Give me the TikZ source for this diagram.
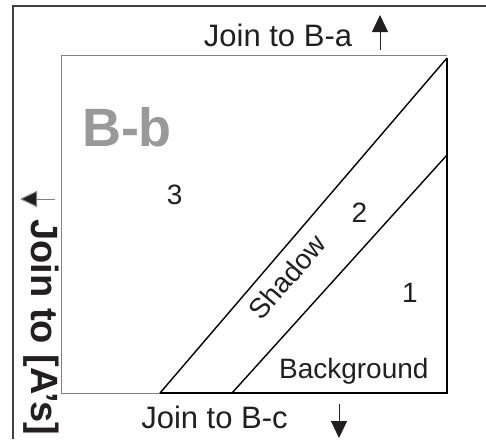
\documentclass[tikz,border=0pt]{standalone}
\usepackage{fontspec}
\setmainfont{Liberation Sans}
\usetikzlibrary{arrows.meta}
\definecolor{ink}{HTML}{231F20}
\definecolor{bbgrey}{HTML}{999999}
\begin{document}
\begin{tikzpicture}[x=1pt,y=-1pt,
  lbl/.style={inner sep=0pt, anchor=base, text=ink},
  mid/.style={lbl, font=\fontsize{28}{33}\selectfont},
  big/.style={lbl, font=\fontsize{31}{37}\selectfont},
  thinedge/.style={line width=0.8pt, draw=black!50},
  frameline/.style={line width=1.2pt, draw=black!75},
  heavy/.style={line width=2.4pt, draw=black, line join=miter},
  diag/.style={line width=1.4pt, draw=black},
  arr/.style={line width=1pt, -{Triangle[length=17pt,width=16pt]}}]
\useasboundingbox (0,0) rectangle (486,439);
% outer frame
\coordinate (F1) at (13,439);
\coordinate (F2) at (13,6);
\coordinate (F3) at (486,6);
\draw[frameline] (F1) -- (F2) -- (F3);
% inner square
\coordinate (TL) at (61,55);
\coordinate (TR) at (447,55);
\coordinate (BL) at (61,393);
\coordinate (BR) at (447,393);
\coordinate (A1) at (160,393);
\coordinate (A2) at (447,58);
\coordinate (B1) at (232,393);
\coordinate (B2) at (447,155);
\draw[thinedge] (A1) -- (BL) -- (TL) -- (TR);
\draw[heavy] (A2) -- (BR) -- (A1);
\draw[diag] (A1) -- (A2);
\draw[diag] (B1) -- (B2);
% labels
\node[big] (ja) at (278,46) {Join to B-a};
\node[big] (jc) at (214.5,428) {Join to B-c};
\node[lbl, text=bbgrey, font=\fontsize{54}{60}\selectfont\bfseries] (bb) at (127,146) {B-b};
\node[mid] (n3) at (174.7,204) {3};
\node[mid] (n2) at (359.5,222) {2};
\node[mid] (n1) at (410,302.5) {1};
\node[mid] (bg) at (353.8,378) {Background};
\node[mid, anchor=center, rotate=49.4] (sh) at (287,277) {Shadow};
\node[lbl, rotate=-90, font=\fontsize{38}{44}\selectfont\bfseries] (ja2) at (31,327.5) {Join to [A's]};
% arrows
\coordinate (U1) at (380,50);
\coordinate (U2) at (380,15);
\coordinate (D1) at (339,404);
\coordinate (D2) at (339,438);
\coordinate (L1) at (55,199);
\coordinate (L2) at (20,199);
\draw[arr, draw=ink, fill=ink] (U1) -- (U2);
\draw[arr, draw=ink, fill=ink] (D1) -- (D2);
\draw[arr, draw=black!50, -{Triangle[length=17pt,width=16pt,fill=ink]}] (L1) -- (L2);
\end{tikzpicture}
\end{document}
